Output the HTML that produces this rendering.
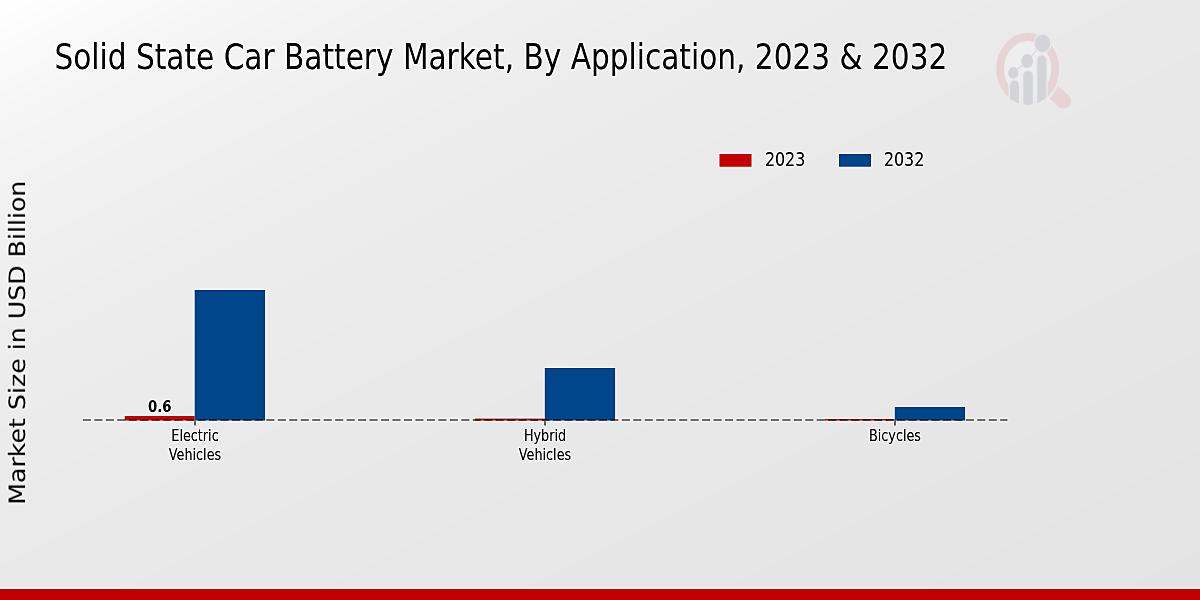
<!DOCTYPE html>
<html><head><meta charset="utf-8"><title>Solid State Car Battery Market, By Application, 2023 &amp; 2032</title>
<style>
html,body{margin:0;padding:0;width:1200px;height:600px;overflow:hidden;background:#e8e8e8}
svg{display:block}
text{font-family:"DejaVu Sans","Liberation Sans",sans-serif;fill:#000}
</style></head><body>
<svg width="1200" height="600" viewBox="0 0 1200 600">
<defs>
<clipPath id="ringclip"><path clip-rule="evenodd" d="M980,20 H1090 V120 H980 Z M1008.8,80 H1047.5 V120 H1008.8 Z"/></clipPath>
<clipPath id="lensclip"><ellipse cx="1027.65" cy="68.9" rx="31.25" ry="36"/></clipPath>
<filter id="sharp" x="-10" y="-10" width="1220" height="620" filterUnits="userSpaceOnUse" color-interpolation-filters="sRGB">
<feGaussianBlur in="SourceGraphic" stdDeviation="0.8" result="b"/>
<feComposite in="SourceGraphic" in2="b" operator="arithmetic" k1="0" k2="1.5" k3="-0.5" k4="0"/>
</filter>
</defs><g filter="url(#sharp)">
<rect x="-10" y="-10" width="1220" height="620" fill="#e9e9e9"/>
<g transform="rotate(63.4349)">
<rect x="-50.00" y="-1400" width="55.97" height="2800" fill="#ffffff"/>
<rect x="5.37" y="-1400" width="11.34" height="2800" fill="#fefefe"/>
<rect x="16.11" y="-1400" width="11.33" height="2800" fill="#fdfdfd"/>
<rect x="26.83" y="-1400" width="11.75" height="2800" fill="#fcfcfc"/>
<rect x="37.98" y="-1400" width="12.16" height="2800" fill="#fbfbfb"/>
<rect x="49.54" y="-1400" width="12.16" height="2800" fill="#fafafa"/>
<rect x="61.10" y="-1400" width="12.16" height="2800" fill="#f9f9f9"/>
<rect x="72.66" y="-1400" width="12.16" height="2800" fill="#f8f8f8"/>
<rect x="84.22" y="-1400" width="12.16" height="2800" fill="#f7f7f7"/>
<rect x="95.78" y="-1400" width="12.16" height="2800" fill="#f6f6f6"/>
<rect x="107.34" y="-1400" width="20.11" height="2800" fill="#f5f5f5"/>
<rect x="126.85" y="-1400" width="20.11" height="2800" fill="#f4f4f4"/>
<rect x="146.36" y="-1400" width="20.12" height="2800" fill="#f3f3f3"/>
<rect x="165.88" y="-1400" width="20.11" height="2800" fill="#f2f2f2"/>
<rect x="185.39" y="-1400" width="20.11" height="2800" fill="#f1f1f1"/>
<rect x="204.91" y="-1400" width="25.69" height="2800" fill="#f0f0f0"/>
<rect x="230.00" y="-1400" width="31.26" height="2800" fill="#efefef"/>
<rect x="260.66" y="-1400" width="31.26" height="2800" fill="#eeeeee"/>
<rect x="291.33" y="-1400" width="31.26" height="2800" fill="#ededed"/>
<rect x="321.99" y="-1400" width="61.93" height="2800" fill="#ececec"/>
<rect x="383.33" y="-1400" width="61.93" height="2800" fill="#ebebeb"/>
<rect x="444.66" y="-1400" width="61.93" height="2800" fill="#eaeaea"/>
<rect x="505.99" y="-1400" width="75.99" height="2800" fill="#e9e9e9"/>
<rect x="581.38" y="-1400" width="90.04" height="2800" fill="#e8e8e8"/>
<rect x="670.83" y="-1400" width="90.04" height="2800" fill="#e7e7e7"/>
<rect x="760.26" y="-1400" width="90.04" height="2800" fill="#e6e6e6"/>
<rect x="849.71" y="-1400" width="90.04" height="2800" fill="#e5e5e5"/>
<rect x="939.15" y="-1400" width="90.04" height="2800" fill="#e4e4e4"/>
<rect x="1028.59" y="-1400" width="95.32" height="2800" fill="#e3e3e3"/>
</g>


<g opacity="0.999">
<!-- title -->
<text transform="translate(54.4,68.7) scale(1,1.17)" font-size="29.6">Solid State Car Battery Market, By Application, 2023 &amp; 2032</text>

<!-- legend -->
<rect x="719.5" y="154" width="32" height="12.7" fill="#c60000"/>
<text transform="translate(764.9,165.9) scale(1,1.17)" font-size="15.9">2023</text>
<rect x="839" y="154" width="32" height="12.7" fill="#00468b"/>
<text transform="translate(883.9,165.9) scale(1,1.17)" font-size="15.9">2032</text>

<!-- y label -->
<text text-rendering="geometricPrecision" transform="translate(25.1,504.7) rotate(-90) scale(1.1159,1)" font-size="22.6">Market Size in USD Billion</text>

<!-- bars -->
<rect x="124.7" y="416" width="70" height="4.5" fill="#c60000"/>
<rect x="194.7" y="290" width="70.4" height="130.5" fill="#00468b"/>
<rect x="474.8" y="418.6" width="70" height="1.9" fill="#c60000"/>
<rect x="544.8" y="368" width="70.3" height="52.5" fill="#00468b"/>
<rect x="824.7" y="419.2" width="70" height="1.3" fill="#c60000"/>
<rect x="894.8" y="407" width="70.3" height="13.5" fill="#00468b"/>

<!-- baseline dashed -->
<line x1="82.9" y1="420" x2="1007.4" y2="420" stroke="#000" stroke-opacity="0.46" stroke-width="1.9" stroke-dasharray="8 3.467"/>
<!-- ticks -->
<line x1="195" y1="420.5" x2="195" y2="425.5" stroke="#333" stroke-width="1.3"/>
<line x1="545" y1="420.5" x2="545" y2="425.5" stroke="#333" stroke-width="1.3"/>
<line x1="895" y1="420.5" x2="895" y2="425.5" stroke="#333" stroke-width="1.3"/>

<!-- value label -->
<text transform="translate(159.8,412) scale(1,1.17)" font-size="13.3" font-weight="bold" text-anchor="middle">0.6</text>

<!-- x labels -->
<g text-anchor="middle" font-size="12.8">
<text transform="translate(195,441.4) scale(1,1.22)">Electric</text>
<text transform="translate(195,459.8) scale(1,1.22)">Vehicles</text>
<text transform="translate(545,441.4) scale(1,1.22)">Hybrid</text>
<text transform="translate(545,459.8) scale(1,1.22)">Vehicles</text>
<text transform="translate(895,441.4) scale(1,1.22)">Bicycles</text>
</g>

</g>
<!-- bottom strip -->
<rect x="-10" y="589" width="1220" height="21" fill="#c00000"/>
</g>
<!-- logo -->
<g>
<ellipse cx="1027.65" cy="68.9" rx="24" ry="28" fill="#ffffff" fill-opacity="0.22"/>
<path d="M1050,88.8 L1063.6,101.1" stroke="#e5d3d6" stroke-width="15" stroke-linecap="round" fill="none"/>
<ellipse cx="1027.65" cy="68.9" rx="32.6" ry="37.4" fill="none" stroke="#eaeaea" stroke-width="2.6"/>
<g clip-path="url(#ringclip)">
<ellipse cx="1027.65" cy="68.9" rx="27.5" ry="31.9" fill="none" stroke="#e5d3d6" stroke-width="7.8"/>
</g>
<g clip-path="url(#lensclip)" fill="#d3d4d8" stroke="#eaeaea" stroke-width="3" paint-order="stroke">
<path d="M1010.1,110 V85.1 A4.4,4.5 0 0 1 1018.9,85.1 V110 Z"/>
<path d="M1023.4,110 V75.6 A4.67,4.7 0 0 1 1032.75,75.6 V110 Z"/>
<path d="M1037.25,110 V60 A4.5,4.5 0 0 1 1046.25,60 V110 Z"/>
</g>
<polyline points="1013.25,72.9 1027.2,61 1042.6,43.2" fill="none" stroke="#d3d4d8" stroke-width="1.1"/>
<ellipse cx="1013.25" cy="72.9" rx="5.25" ry="5.8" fill="#d3d4d8"/>
<ellipse cx="1027.2" cy="61" rx="5.9" ry="6.95" fill="#d3d4d8"/>
<ellipse cx="1042.6" cy="43.2" rx="7.7" ry="8.8" fill="#d3d4d8" stroke="#eaeaea" stroke-width="3" paint-order="stroke"/>
</g>

</svg>
</body></html>
